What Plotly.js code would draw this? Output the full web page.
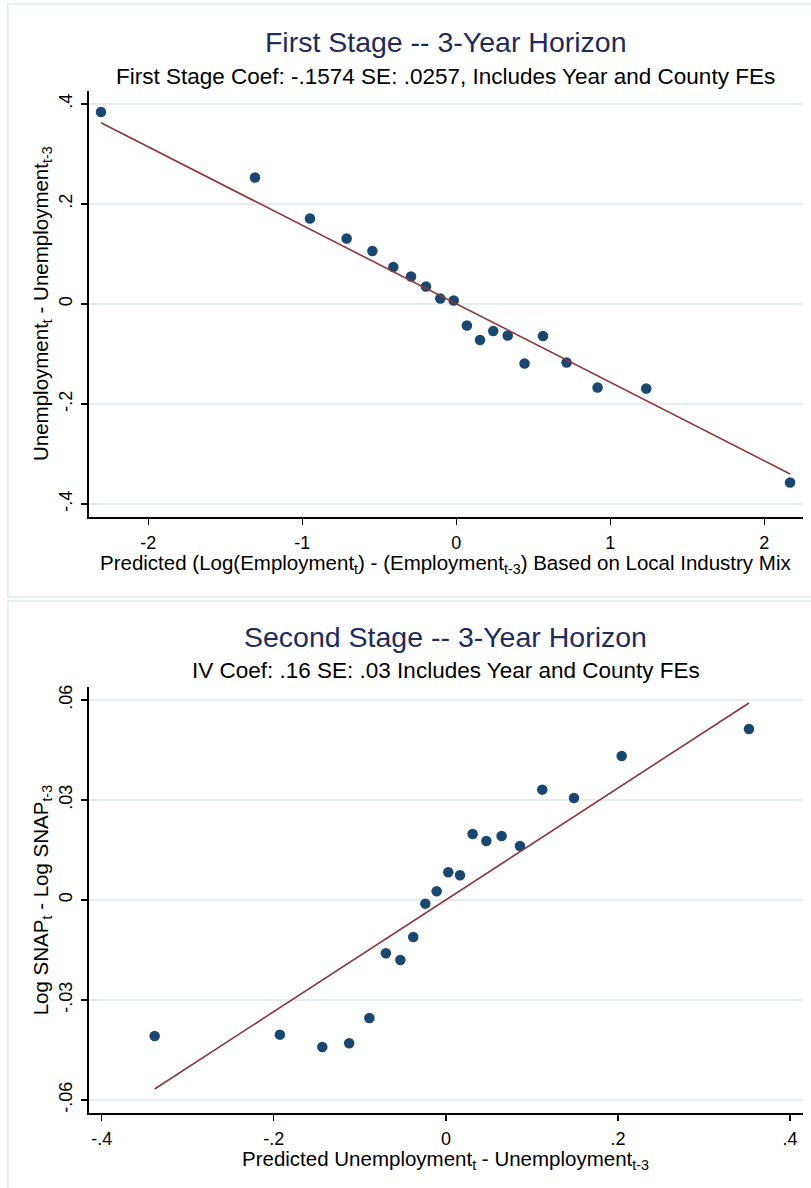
<!DOCTYPE html>
<html>
<head>
<meta charset="utf-8">
<script src="https://cdn.plot.ly/plotly-3.0.1.min.js"></script>
<style>
  html, body { margin: 0; padding: 0; background: #ffffff; }
  #chart { width: 811px; height: 1188px; }
</style>
</head>
<body>
<div id="chart"></div>
<script>
// ---------- First stage (binned scatter) ----------
const fsX = [-2.307, -1.307, -0.950, -0.712, -0.545, -0.409, -0.294, -0.197, -0.104, -0.017,
             0.069, 0.154, 0.240, 0.334, 0.443, 0.563, 0.716, 0.917, 1.233, 2.167];
const fsY = [0.384, 0.253, 0.171, 0.131, 0.106, 0.074, 0.055, 0.035, 0.011, 0.007,
             -0.043, -0.072, -0.054, -0.063, -0.119, -0.064, -0.117, -0.167, -0.169, -0.357];
const fsLineX = [-2.307, 2.167];
const fsLineY = [0.3626, -0.340];
const fsXTicks = [-2, -1, 0, 1, 2];
const fsXTickText = ["-2", "-1", "0", "1", "2"];
const fsYTicks = [-0.4, -0.2, 0, 0.2, 0.4];
const fsYTickText = ["-.4", "-.2", "0", ".2", ".4"];

// ---------- Second stage (binned scatter) ----------
const ssX = [-0.3384, -0.1929, -0.1436, -0.1124, -0.0889, -0.0697, -0.0529, -0.0379, -0.0239, -0.0107,
             0.0028, 0.0164, 0.0311, 0.0470, 0.0648, 0.0861, 0.1120, 0.1489, 0.2043, 0.3522];
const ssY = [-0.0408, -0.0404, -0.0441, -0.0430, -0.0354, -0.0160, -0.0180, -0.0111, -0.0011, 0.0026,
             0.0083, 0.0074, 0.0198, 0.0177, 0.0192, 0.0162, 0.0331, 0.0306, 0.0432, 0.0513];
const ssLineX = [-0.3384, 0.3522];
const ssLineY = [-0.0567, 0.0591];
const ssXTicks = [-0.4, -0.2, 0, 0.2, 0.4];
const ssXTickText = ["-.4", "-.2", "0", ".2", ".4"];
const ssYTicks = [-0.06, -0.03, 0, 0.03, 0.06];
const ssYTickText = ["-.06", "-.03", "0", ".03", ".06"];

const title1 = "First Stage -- 3-Year Horizon";
const subtitle1 = "First Stage Coef: -.1574 SE: .0257, Includes Year and County FEs";
const xTitle1 = "Predicted (Log(Employment<sub>t</sub>) - (Employment<sub>t-3</sub>) Based on Local Industry Mix";
const yTitle1 = "Unemployment<sub>t</sub> - Unemployment<sub>t-3</sub>";
const title2 = "Second Stage -- 3-Year Horizon";
const subtitle2 = "IV Coef: .16 SE: .03 Includes Year and County FEs";
const xTitle2 = "Predicted Unemployment<sub>t</sub> - Unemployment<sub>t-3</sub>";
const yTitle2 = "Log SNAP<sub>t</sub> - Log SNAP<sub>t-3</sub>";

// ---------- styling ----------
const W = 811, H = 1188;
const FONT = "Liberation Sans, Arial, Helvetica, sans-serif";
const NAVY = "#1a476f";
const MAROON = "#90353b";
const TITLE_COLOR = "#1e2b5b";
const GRID = "#e6edf1";
const FRAME = "#e3eaee";

const px = v => v / W;
const py = v => 1 - v / H;

const plotL = 88.5, plotR = 803;
const top1 = 90.7, bot1 = 517.3;
const top2 = 687.3, bot2 = 1113.3;
const cx = (plotL + plotR) / 2;

function axisBase(extra) {
  return Object.assign({
    showline: true, linecolor: "#000", linewidth: 1.3,
    ticks: "outside", ticklen: 6, tickwidth: 1.3, tickcolor: "#000",
    tickmode: "array", zeroline: false,
    tickfont: { family: FONT, size: 18, color: "#000" },
    fixedrange: true
  }, extra);
}

const traces = [
  { x: fsX, y: fsY, type: "scatter", mode: "markers", xaxis: "x", yaxis: "y",
    marker: { color: NAVY, size: 10.5 }, showlegend: false },
  { x: fsLineX, y: fsLineY, type: "scatter", mode: "lines", xaxis: "x", yaxis: "y",
    line: { color: MAROON, width: 1.6 }, showlegend: false },
  { x: ssX, y: ssY, type: "scatter", mode: "markers", xaxis: "x2", yaxis: "y2",
    marker: { color: NAVY, size: 10.5 }, showlegend: false },
  { x: ssLineX, y: ssLineY, type: "scatter", mode: "lines", xaxis: "x2", yaxis: "y2",
    line: { color: MAROON, width: 1.6 }, showlegend: false }
];

function ann(text, x, y, size, color, angle) {
  return { text: text, xref: "paper", yref: "paper", x: px(x), y: py(y),
    xanchor: "center", yanchor: "middle", showarrow: false, textangle: angle || 0,
    font: { family: FONT, size: size, color: color } };
}

const layout = {
  width: W, height: H,
  margin: { l: 0, r: 0, t: 0, b: 0, pad: 0 },
  paper_bgcolor: "#ffffff", plot_bgcolor: "#ffffff",
  font: { family: FONT, color: "#000" },
  showlegend: false,
  title: {
    text: title1, x: px(cx), xanchor: "center", xref: "paper",
    y: py(42), yanchor: "middle", yref: "paper",
    font: { family: FONT, size: 28.5, color: TITLE_COLOR }
  },
  xaxis: axisBase({
    domain: [px(plotL), px(plotR)], anchor: "y",
    range: [-2.388, 2.251], tickvals: fsXTicks, ticktext: fsXTickText,
    showgrid: false, ticklabelstandoff: 3
  }),
  yaxis: axisBase({
    domain: [py(bot1), py(top1)], anchor: "x",
    range: [-0.4266, 0.4266], tickvals: fsYTicks, ticktext: fsYTickText,
    tickangle: -90, showgrid: true, gridcolor: GRID, gridwidth: 1.6, ticklabelstandoff: 2
  }),
  xaxis2: axisBase({
    domain: [px(plotL), px(plotR)], anchor: "y2",
    range: [-0.4153, 0.415], tickvals: ssXTicks, ticktext: ssXTickText,
    showgrid: false, ticklabelstandoff: 3
  }),
  yaxis2: axisBase({
    domain: [py(bot2), py(top2)], anchor: "x2",
    range: [-0.064, 0.0638], tickvals: ssYTicks, ticktext: ssYTickText,
    tickangle: -90, showgrid: true, gridcolor: GRID, gridwidth: 1.6, ticklabelstandoff: 2
  }),
  annotations: [
    ann(subtitle1, cx, 76, 22.5, "#000"),
    ann(xTitle1, cx, 564, 20.5, "#000"),
    ann(yTitle1, 42, (top1 + bot1) / 2, 20.5, "#000", -90),
    ann(title2, cx, 637, 28.5, TITLE_COLOR),
    ann(subtitle2, cx, 670, 22.5, "#000"),
    ann(xTitle2, cx, 1160, 20.5, "#000"),
    ann(yTitle2, 42, (top2 + bot2) / 2, 20.5, "#000", -90)
  ],
  shapes: [
    { type: "rect", xref: "paper", yref: "paper", layer: "below",
      x0: px(7.8), x1: px(815), y0: py(597), y1: py(4),
      line: { color: FRAME, width: 1.5 }, fillcolor: "rgba(0,0,0,0)" },
    { type: "rect", xref: "paper", yref: "paper", layer: "below",
      x0: px(7.8), x1: px(815), y0: py(1192), y1: py(601),
      line: { color: FRAME, width: 1.5 }, fillcolor: "rgba(0,0,0,0)" }
  ]
};

Plotly.newPlot("chart", traces, layout, { staticPlot: true, displayModeBar: false });
</script>
</body>
</html>
